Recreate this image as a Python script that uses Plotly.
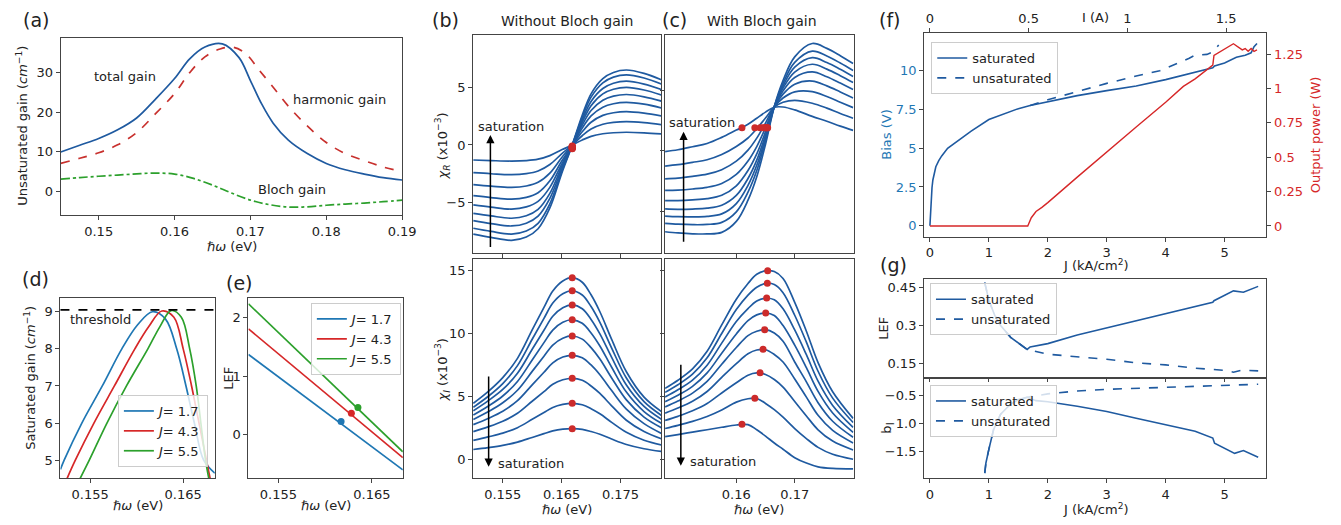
import plotly.graph_objects as go

# page size; the figure sits 8px below the page top in the browser (no horizontal offset)
PAGE_W, PAGE_H = 1341, 525
OFF_X, OFF_Y = 0, 8
W, H = PAGE_W - OFF_X, PAGE_H - OFF_Y

# ---------------- data: panel (a) ----------------
A_TOTAL_X = [0.145, 0.1475, 0.150, 0.1525, 0.155, 0.1575, 0.160, 0.162, 0.164, 0.1663, 0.1685,
             0.170, 0.1715, 0.173, 0.175, 0.1775, 0.180, 0.1825, 0.185, 0.1875, 0.190]
A_TOTAL = [9.9, 11.6, 13.3, 15.5, 18.5, 23.3, 28.5, 33.5, 36.5, 37.3, 33.8,
           28.0, 22.0, 17.2, 12.9, 9.5, 7.0, 5.4, 4.3, 3.4, 2.8]
A_HARM_X = [0.145, 0.1475, 0.150, 0.1525, 0.155, 0.1575, 0.160, 0.162, 0.164, 0.166, 0.1678,
            0.1695, 0.171, 0.173, 0.175, 0.1775, 0.180, 0.1825, 0.185, 0.1875, 0.190]
A_HARM = [7.0, 8.3, 9.7, 11.7, 14.8, 19.6, 24.7, 30.0, 34.0, 36.0, 36.4,
          34.6, 31.0, 26.3, 21.5, 16.5, 12.3, 9.5, 7.7, 6.1, 4.9]
A_BLOCH_X = [0.145, 0.1475, 0.150, 0.1525, 0.155, 0.1575, 0.160, 0.1625, 0.165, 0.1675,
             0.170, 0.1725, 0.175, 0.1775, 0.180, 0.1825, 0.185, 0.1875, 0.190]
A_BLOCH = [3.0, 3.4, 3.75, 4.05, 4.35, 4.55, 4.3, 3.2, 1.5, -0.5,
           -2.3, -3.45, -4.05, -4.0, -3.6, -3.3, -3.05, -2.7, -2.3]

# ---------------- data: panel (d) saturated gain ----------------
D_LABELS = ["<i>J</i>= 1.7", "<i>J</i>= 4.3", "<i>J</i>= 5.5"]
D_X_17 = [0.1518, 0.1522, 0.1541, 0.1563, 0.1584, 0.1601, 0.1617, 0.1631, 0.1643, 0.1653, 0.1662, 0.1672, 0.1684]
D_G_17 = [4.75, 5.0, 6.0, 7.0, 8.0, 8.65, 9.0, 8.8, 8.0, 7.0, 6.0, 5.0, 4.65]
D_X_43 = [0.1525, 0.1534, 0.1554, 0.1576, 0.1598, 0.1613, 0.1627, 0.164, 0.165, 0.1659, 0.1667, 0.1675, 0.1679]
D_G_43 = [4.5, 5.0, 6.0, 7.0, 8.0, 8.6, 9.02, 8.85, 8.0, 7.0, 6.0, 5.0, 4.5]
D_X_55 = [0.1539, 0.1549, 0.1568, 0.1589, 0.1612, 0.1625, 0.1637, 0.1648, 0.1657, 0.1664, 0.1669, 0.1674, 0.1678]
D_G_55 = [4.5, 5.0, 6.0, 7.0, 8.0, 8.6, 9.03, 8.85, 8.0, 7.0, 6.0, 5.0, 4.45]
D_THRESHOLD = 9.05

# ---------------- data: panel (e) LEF ----------------
E_X = [0.1518, 0.1683]
E_J17 = [1.37, -0.61]
E_J43 = [1.81, -0.40]
E_J55 = [2.24, -0.30]
E_DOT_X = [0.1617, 0.1628, 0.1635]
E_DOT_Y = [0.22, 0.36, 0.46]

# ---------------- data: panel (b) without Bloch gain ----------------
B_R_X = [0.150, 0.153, 0.1565, 0.159, 0.161, 0.163, 0.165, 0.1667, 0.1685, 0.170, 0.172, 0.1738, 0.176, 0.179, 0.182]
B_CHI_R = [
    [-7.71, -8.0, -8.25, -7.97, -7.25, -5.45, -2.48, -0.15, 2.57, 4.43, 5.75, 6.28, 6.49, 6.2, 5.63],
    [-7.21, -7.48, -7.71, -7.45, -6.78, -5.10, -2.32, -0.14, 2.40, 4.14, 5.38, 5.87, 6.07, 5.80, 5.26],
    [-6.55, -6.80, -7.01, -6.77, -6.16, -4.63, -2.11, -0.13, 2.18, 3.77, 4.89, 5.34, 5.52, 5.27, 4.79],
    [-5.92, -6.14, -6.34, -6.12, -5.57, -4.19, -1.90, -0.12, 1.97, 3.40, 4.42, 4.82, 4.98, 4.76, 4.32],
    [-5.19, -5.38, -5.55, -5.36, -4.88, -3.67, -1.67, -0.10, 1.73, 2.98, 3.87, 4.23, 4.37, 4.17, 3.79],
    [-4.39, -4.55, -4.69, -4.53, -4.13, -3.10, -1.41, -0.09, 1.46, 2.52, 3.27, 3.57, 3.69, 3.53, 3.20],
    [-3.43, -3.56, -3.67, -3.55, -3.23, -2.43, -1.10, -0.07, 1.14, 1.97, 2.56, 2.79, 2.89, 2.76, 2.51],
    [-2.40, -2.49, -2.57, -2.48, -2.25, -1.69, -0.77, -0.05, 0.80, 1.38, 1.79, 1.95, 2.02, 1.93, 1.75],
    [-1.30, -1.35, -1.39, -1.35, -1.23, -0.92, -0.42, -0.03, 0.43, 0.75, 0.97, 1.06, 1.10, 1.05, 0.95],
]
B_I_X = [0.150, 0.1525, 0.155, 0.1575, 0.160, 0.162, 0.1635, 0.1652, 0.1668, 0.1685, 0.170, 0.1715, 0.1735, 0.176, 0.179, 0.182]
B_CHI_I = [
    [4.45, 5.38, 6.5, 8.04, 10.3, 12.09, 13.4, 14.2, 14.46, 14.1, 13.1, 11.75, 9.55, 6.97, 4.95, 3.78],
    [4.15, 5.0, 6.03, 7.46, 9.56, 11.22, 12.44, 13.18, 13.42, 13.08, 12.16, 10.9, 8.86, 6.47, 4.59, 3.48],
    [3.86, 4.65, 5.56, 6.85, 8.76, 10.28, 11.39, 12.07, 12.29, 11.99, 11.14, 9.99, 8.12, 5.92, 4.21, 3.17],
    [3.52, 4.22, 5.04, 6.2, 7.91, 9.29, 10.29, 10.91, 11.11, 10.83, 10.06, 9.02, 7.33, 5.35, 3.80, 2.85],
    [3.17, 3.78, 4.5, 5.5, 7.0, 8.21, 9.10, 9.64, 9.82, 9.57, 8.89, 7.98, 6.48, 4.73, 3.36, 2.5],
    [2.76, 3.25, 3.83, 4.67, 5.93, 6.93, 7.68, 8.14, 8.28, 8.08, 7.51, 6.73, 5.47, 3.99, 2.84, 2.05],
    [2.2, 2.58, 3.03, 3.66, 4.62, 5.39, 5.98, 6.33, 6.45, 6.29, 5.84, 5.24, 4.26, 3.11, 2.21, 1.62],
    [1.5, 1.78, 2.08, 2.52, 3.18, 3.72, 4.13, 4.37, 4.46, 4.34, 4.03, 3.62, 2.94, 2.15, 1.52, 1.14],
    [0.78, 0.93, 1.11, 1.37, 1.74, 2.04, 2.26, 2.40, 2.44, 2.38, 2.21, 1.99, 1.61, 1.18, 0.84, 0.62],
]
B_DOT_X = [0.1668, 0.1668, 0.1668, 0.1668, 0.1668, 0.1668, 0.1668, 0.1668, 0.1668]
B_DOT_R = [-0.32, -0.29, -0.26, -0.23, -0.2, -0.17, -0.14, -0.11, -0.08]
B_DOT_I = [14.46, 13.42, 12.29, 11.11, 9.82, 8.28, 6.45, 4.46, 2.44]

# ---------------- data: panel (c) with Bloch gain ----------------
C_R_X = [0.1478, 0.150, 0.1525, 0.155, 0.1575, 0.160, 0.162, 0.1635, 0.165, 0.1665, 0.168, 0.170, 0.173, 0.1755, 0.1778, 0.180]
C_CHI_R = [
    [-6.65, -6.75, -6.82, -6.83, -6.7, -5.8, -4.05, -2.12, 0.55, 3.65, 5.8, 7.75, 8.85, 8.45, 7.85, 7.2],
    [-5.96, -6.03, -6.07, -6.05, -5.88, -5.01, -3.39, -1.61, 0.83, 3.64, 5.57, 7.29, 8.22, 7.82, 7.24, 6.62],
    [-5.36, -5.41, -5.42, -5.38, -5.18, -4.33, -2.83, -1.18, 1.07, 3.64, 5.37, 6.90, 7.68, 7.28, 6.72, 6.13],
    [-4.77, -4.80, -4.78, -4.71, -4.47, -3.66, -2.27, -0.75, 1.31, 3.64, 5.18, 6.50, 7.14, 6.74, 6.20, 5.63],
    [-4.08, -4.08, -4.02, -3.92, -3.65, -2.87, -1.61, -0.24, 1.58, 3.63, 4.95, 6.05, 6.51, 6.11, 5.59, 5.06],
    [-3.25, -3.22, -3.13, -2.99, -2.67, -1.93, -0.83, 0.36, 1.91, 3.62, 4.68, 5.50, 5.76, 5.36, 4.86, 4.37],
    [-2.29, -2.23, -2.09, -1.91, -1.54, -0.84, 0.07, 1.06, 2.30, 3.62, 4.36, 4.87, 4.89, 4.49, 4.02, 3.57],
    [-1.24, -1.13, -0.94, -0.72, -0.29, 0.37, 1.07, 1.83, 2.72, 3.61, 4.01, 4.17, 3.93, 3.53, 3.09, 2.69],
    [-0.05, 0.1, 0.35, 0.62, 1.12, 1.72, 2.2, 2.7, 3.2, 3.6, 3.62, 3.38, 2.85, 2.45, 2.05, 1.7],
]
C_I_X = [0.1478, 0.150, 0.1525, 0.155, 0.1575, 0.160, 0.162, 0.1635, 0.165, 0.1665, 0.168, 0.170, 0.172, 0.174, 0.1765, 0.180]
C_CHI_I = [
    [5.65, 6.3, 7.2, 8.6, 10.7, 12.75, 14.0, 14.73, 15.0, 14.95, 14.4, 12.5, 10.2, 7.7, 5.38, 3.26],
    [5.33, 5.94, 6.78, 8.08, 10.02, 11.92, 13.07, 13.70, 14.0, 13.92, 13.27, 11.47, 9.33, 7.01, 4.87, 2.93],
    [4.96, 5.53, 6.30, 7.49, 9.25, 10.97, 12.0, 12.6, 12.82, 12.7, 11.98, 10.30, 8.33, 6.22, 4.29, 2.54],
    [4.59, 5.10, 5.81, 6.88, 8.45, 9.98, 11.05, 11.5, 11.65, 11.45, 10.65, 9.09, 7.30, 5.41, 3.69, 2.15],
    [4.17, 4.64, 5.27, 6.20, 7.57, 8.90, 9.85, 10.2, 10.32, 10.05, 9.4, 7.75, 6.17, 4.51, 3.03, 1.75],
    [3.68, 4.08, 4.62, 5.40, 6.53, 7.62, 8.4, 8.7, 8.72, 8.35, 7.75, 6.4, 4.95, 3.5, 2.3, 1.3],
    [3.09, 3.42, 3.86, 4.44, 5.28, 6.09, 6.7, 6.88, 6.75, 6.35, 5.75, 4.6, 3.45, 2.35, 1.45, 0.74],
    [2.45, 2.70, 3.02, 3.41, 3.93, 4.55, 4.82, 4.84, 4.45, 3.95, 3.35, 2.45, 1.65, 0.95, 0.4, 0.0],
    [1.8, 1.97, 2.17, 2.35, 2.55, 2.73, 2.76, 2.35, 1.85, 1.3, 0.8, 0.13, -0.3, -0.6, -0.73, -0.77],
]
C_DOT_X = [0.16537, 0.16531, 0.1652, 0.16503, 0.16486, 0.16458, 0.16407, 0.16317, 0.16097]
C_DOT_R = [1.92, 1.92, 1.92, 1.92, 1.92, 1.92, 1.92, 1.92, 1.92]
C_DOT_I = [15.02, 14.01, 12.84, 11.65, 10.32, 8.76, 6.89, 4.86, 2.79]

# ---------------- data: panel (f) ----------------
F_J_SAT = [0, 0.01, 0.02, 0.035, 0.05, 0.075, 0.1, 0.15, 0.2, 0.3, 0.4, 0.5, 0.7, 1.0, 1.3, 1.5, 1.7,
           2.0, 2.5, 3.0, 3.5, 4.0, 4.5, 4.8, 4.83, 5.0, 5.2, 5.35, 5.45, 5.5, 5.55]
F_BIAS_SAT = [0, 0.9, 1.66, 2.45, 2.95, 3.45, 3.8, 4.2, 4.5, 4.99, 5.28, 5.53, 6.1, 6.85, 7.3, 7.55, 7.75,
              8.0, 8.39, 8.71, 9.01, 9.42, 9.87, 10.18, 10.3, 10.5, 10.86, 11.0, 11.15, 11.55, 11.75]
F_J_UNSAT = [1.7, 2.0, 2.5, 3.0, 3.5, 3.9, 4.0, 4.1, 4.4, 4.5, 4.7, 4.8, 4.9]
F_BIAS_UNSAT = [7.75, 8.12, 8.65, 9.18, 9.65, 10.0, 10.15, 10.3, 10.8, 11.0, 11.05, 11.2, 11.65]
F_J_POWER = [0, 1.66, 1.72, 1.8, 1.9, 2.0, 2.5, 3.0, 3.5, 4.0, 4.3, 4.5, 4.8, 4.82, 5.0, 5.15,
             5.3, 5.35, 5.4, 5.45, 5.5, 5.55]
F_POWER = [0, 0, 0.06, 0.105, 0.135, 0.17, 0.355, 0.54, 0.72, 0.9, 1.015, 1.07, 1.17, 1.24, 1.285, 1.325,
           1.28, 1.29, 1.27, 1.29, 1.27, 1.28]
F_I_TICKS = [0, 0.5, 1, 1.5]

# ---------------- data: panel (g) ----------------
G_J_LEF_SAT = [0.93, 1.0, 1.1, 1.2, 1.37, 1.5, 1.65, 1.7, 1.82, 2.0, 2.5, 3.0, 3.5, 4.0, 4.5, 4.8,
               4.82, 5.0, 5.15, 5.32, 5.45, 5.57]
G_LEF_SAT = [0.47, 0.40, 0.34, 0.30, 0.253, 0.23, 0.205, 0.215, 0.22, 0.228, 0.262, 0.29, 0.318, 0.345,
             0.374, 0.392, 0.398, 0.42, 0.437, 0.432, 0.445, 0.455]
G_J_LEF_UNSAT = [0.93, 1.0, 1.1, 1.2, 1.37, 1.5, 1.65, 2.0, 2.5, 3.0, 3.5, 4.0, 4.5, 5.0, 5.15, 5.3, 5.57]
G_LEF_UNSAT = [0.47, 0.40, 0.34, 0.30, 0.253, 0.23, 0.205, 0.186, 0.176, 0.166, 0.152, 0.144, 0.131,
               0.122, 0.115, 0.123, 0.12]
G_J_B_SAT = [0.93, 0.95, 1.0, 1.08, 1.2, 1.37, 1.5, 1.65, 1.8, 2.0, 2.5, 3.0, 3.5, 4.0, 4.5, 4.8, 4.83,
             5.17, 5.32, 5.57]
G_B_SAT = [-1.88, -1.7, -1.46, -1.11, -0.84, -0.66, -0.58, -0.54, -0.6, -0.62, -0.70, -0.79, -0.91,
           -1.02, -1.14, -1.26, -1.35, -1.53, -1.48, -1.6]
G_J_B_UNSAT = [0.93, 0.95, 1.0, 1.08, 1.2, 1.37, 1.5, 1.65, 2.0, 2.5, 3.0, 3.5, 4.0, 4.5, 5.0, 5.57]
G_B_UNSAT = [-1.88, -1.7, -1.46, -1.11, -0.84, -0.66, -0.58, -0.54, -0.48, -0.43, -0.40, -0.38, -0.36,
             -0.345, -0.33, -0.31]

# ---------------- styles ----------------
FONT = "DejaVu Sans"
TXT = "#222222"
FRAME = "#444444"
BLUE = "#1f5aa0"
TBLUE = "#1f77b4"
TRED = "#d62728"
TGREEN = "#2ca02c"
HRED = "#c8312e"
DOT = "#cc2b2b"

fig = go.Figure()


def add_line(x, y, xa, ya, color, width=1.7, dash=None, shape="spline", name=None, legend=None):
    kw = dict(x=x, y=y, xaxis=xa, yaxis=ya, mode="lines",
              line=dict(color=color, width=width, dash=dash, shape=shape),
              hoverinfo="skip", showlegend=name is not None)
    if name is not None:
        kw["name"] = name
        kw["legend"] = legend
    fig.add_trace(go.Scatter(**kw))


def add_dots(x, y, xa, ya, color, size=7):
    fig.add_trace(go.Scatter(x=x, y=y, xaxis=xa, yaxis=ya, mode="markers",
                             marker=dict(color=color, size=size, line=dict(width=0)),
                             hoverinfo="skip", showlegend=False))


# (a)
add_line(A_TOTAL_X, A_TOTAL, "x", "y", BLUE)
add_line(A_HARM_X, A_HARM, "x", "y", HRED, dash="dash")
add_line(A_BLOCH_X, A_BLOCH, "x", "y", TGREEN, dash="dashdot")

# (d)
for xs, ys, col, lab in [(D_X_17, D_G_17, TBLUE, D_LABELS[0]),
                         (D_X_43, D_G_43, TRED, D_LABELS[1]),
                         (D_X_55, D_G_55, TGREEN, D_LABELS[2])]:
    add_line(xs, ys, "x2", "y2", col, name=lab, legend="legend")

# (e)
for ys, col, lab in [(E_J17, TBLUE, D_LABELS[0]), (E_J43, TRED, D_LABELS[1]), (E_J55, TGREEN, D_LABELS[2])]:
    add_line(E_X, ys, "x3", "y3", col, shape="linear", name=lab, legend="legend2")
for i, col in enumerate([TBLUE, TRED, TGREEN]):
    add_dots([E_DOT_X[i]], [E_DOT_Y[i]], "x3", "y3", col, size=7)

# (b)
for ys in B_CHI_R:
    add_line(B_R_X, ys, "x4", "y4", BLUE)
add_dots(B_DOT_X, B_DOT_R, "x4", "y4", DOT)
for ys in B_CHI_I:
    add_line(B_I_X, ys, "x5", "y5", BLUE)
add_dots(B_DOT_X, B_DOT_I, "x5", "y5", DOT)

# (c)
for ys in C_CHI_R:
    add_line(C_R_X, ys, "x6", "y6", BLUE)
add_dots(C_DOT_X, C_DOT_R, "x6", "y6", DOT)
for ys in C_CHI_I:
    add_line(C_I_X, ys, "x7", "y7", BLUE)
add_dots(C_DOT_X, C_DOT_I, "x7", "y7", DOT)

# (f)
add_line(F_J_SAT, F_BIAS_SAT, "x8", "y8", BLUE, width=1.6, shape="linear", name="saturated", legend="legend3")
add_line(F_J_UNSAT, F_BIAS_UNSAT, "x8", "y8", BLUE, width=1.6, dash="dash", shape="linear",
         name="unsaturated", legend="legend3")
add_line(F_J_POWER, F_POWER, "x8", "y9", TRED, width=1.4, shape="linear")
fig.add_trace(go.Scatter(x=F_I_TICKS, y=[None] * len(F_I_TICKS), xaxis="x9", yaxis="y8",
                         mode="lines", showlegend=False, hoverinfo="skip"))

# (g)
add_line(G_J_LEF_SAT, G_LEF_SAT, "x10", "y10", BLUE, width=1.6, shape="linear", name="saturated", legend="legend4")
add_line(G_J_LEF_UNSAT, G_LEF_UNSAT, "x10", "y10", BLUE, width=1.6, dash="dash", shape="linear",
         name="unsaturated", legend="legend4")
add_line(G_J_B_SAT, G_B_SAT, "x11", "y11", BLUE, width=1.6, shape="linear", name="saturated", legend="legend5")
add_line(G_J_B_UNSAT, G_B_UNSAT, "x11", "y11", BLUE, width=1.6, dash="dash", shape="linear",
         name="unsaturated", legend="legend5")


# ---------------- layout (positions given in page pixels) ----------------
def px(p):
    return (p - OFF_X) / W


def py(p):
    return 1 - (p - OFF_Y) / H


def dx(l, r):
    return [px(l), px(r)]


def dy(t, b):
    return [py(b), py(t)]


def axis(domain, rng, anchor, tickvals=None, ticktext=None, labels=True, color=TXT, mirror=True, **kw):
    d = dict(range=rng, anchor=anchor, showline=True, mirror=mirror,
             linecolor=FRAME, linewidth=1, ticks="outside", ticklen=4, tickwidth=1, tickcolor=FRAME,
             showgrid=False, zeroline=False, showticklabels=labels,
             tickfont=dict(family=FONT, size=13, color=color))
    if domain is not None:
        d["domain"] = domain
    if tickvals is not None:
        d["tickmode"] = "array"
        d["tickvals"] = tickvals
        if ticktext is not None:
            d["ticktext"] = ticktext
    d.update(kw)
    return d


MINUS = "\u2212"
BX = dx(470, 660)
CX = dx(664, 854.5)
FX = dx(925.7, 1271.7)

layout = dict(
    width=W, height=H, margin=dict(l=0, r=0, t=0, b=0),
    paper_bgcolor="white", plot_bgcolor="white",
    font=dict(family=FONT, size=13, color=TXT),
    # (a)
    xaxis=axis(dx(53.3, 398.3), [0.145, 0.19], "y", [0.15, 0.16, 0.17, 0.18, 0.19],
               ["0.15", "0.16", "0.17", "0.18", "0.19"]),
    yaxis=axis(dy(38.3, 215), [-6.07, 38.7], "x", [0, 10, 20, 30]),
    # (d)
    xaxis2=axis(dx(53, 209), [0.1518, 0.1684], "y2", [0.155, 0.165], ["0.155", "0.165"]),
    yaxis2=axis(dy(298, 478), [4.52, 9.37], "x2", [5, 6, 7, 8, 9]),
    # (e)
    xaxis3=axis(dx(243, 399), [0.1518, 0.1683], "y3", [0.155, 0.165], ["0.155", "0.165"]),
    yaxis3=axis(dy(298, 478), [-0.75, 2.34], "x3", [0, 1, 2]),
    # (b)
    xaxis4=axis(BX, [0.14996, 0.1819], "y4", [0.155, 0.165, 0.175], labels=False),
    yaxis4=axis(dy(35, 253), [-9.35, 9.52], "x4", [-5, 0, 5], [MINUS + "5", "0", "5"]),
    xaxis5=axis(BX, [0.14996, 0.1819], "y5", [0.155, 0.165, 0.175], ["0.155", "0.165", "0.175"]),
    yaxis5=axis(dy(259, 478), [-1.49, 15.95], "x5", [0, 5, 10, 15]),
    # (c)
    xaxis6=axis(CX, [0.1478, 0.18008], "y6", [0.16, 0.17], labels=False),
    yaxis6=axis(dy(35, 253), [-8.4, 9.55], "x6", [-5, 0, 5], labels=False),
    xaxis7=axis(CX, [0.1478, 0.18008], "y7", [0.16, 0.17], ["0.16", "0.17"]),
    yaxis7=axis(dy(259, 478), [-1.49, 15.95], "x7", [0, 5, 10, 15], labels=False),
    # (f)
    xaxis8=axis(FX, [-0.1, 5.71], "y8", [0, 1, 2, 3, 4, 5]),
    yaxis8=axis(dy(33.3, 236.7), [-0.71, 12.41], "x8", [0, 2.5, 5, 7.5, 10],
                ["0", "2.5", "5", "7.5", "10"], color=TBLUE),
    yaxis9=axis(None, [-0.078, 1.401], "x8", [0, 0.25, 0.5, 0.75, 1, 1.25],
                ["0", "0.25", "0.5", "0.75", "1", "1.25"], color=TRED, mirror=False,
                overlaying="y8", side="right"),
    xaxis9=axis(None, [-0.0298, 1.704], "y8", F_I_TICKS, ["0", "0.5", "1", "1.5"], mirror=False,
                overlaying="x8", side="top"),
    # (g)
    xaxis10=axis(FX, [-0.1, 5.71], "y10", [0, 1, 2, 3, 4, 5], labels=False),
    yaxis10=axis(dy(279.3, 376.7), [0.097, 0.483], "x10", [0.15, 0.3, 0.45], ["0.15", "0.3", "0.45"]),
    xaxis11=axis(FX, [-0.1, 5.71], "y11", [0, 1, 2, 3, 4, 5]),
    yaxis11=axis(dy(379.3, 478.3), [-1.97, -0.223], "x11", [-1.5, -1.0, -0.5],
                 [MINUS + "1.5", MINUS + "1.0", MINUS + "0.5"]),
)

LEG = dict(bgcolor="rgba(255,255,255,0.8)", bordercolor="#cccccc", borderwidth=1,
           font=dict(family=FONT, size=13, color=TXT), itemwidth=30, tracegroupgap=0)
layout["legend"] = dict(LEG, x=px(202), y=py(467), xanchor="right", yanchor="bottom")
layout["legend2"] = dict(LEG, x=px(397), y=py(303), xanchor="right", yanchor="top")
layout["legend3"] = dict(LEG, x=px(933), y=py(42), xanchor="left", yanchor="top")
layout["legend4"] = dict(LEG, x=px(931.7), y=py(283.3), xanchor="left", yanchor="top")
layout["legend5"] = dict(LEG, x=px(931.7), y=py(385), xanchor="left", yanchor="top")

fig.update_layout(**layout)

# threshold line in (d)
fig.add_shape(type="line", xref="x2 domain", x0=0, x1=1, yref="y2", y0=D_THRESHOLD, y1=D_THRESHOLD,
              line=dict(color="black", width=1.6, dash="dash"))

annotations = []


def pann(text, x, y, size=13, angle=0, color=TXT, xanchor="center", yanchor="middle"):
    annotations.append(dict(text=text, x=px(x), y=py(y), xref="paper", yref="paper",
                            showarrow=False, textangle=angle, xanchor=xanchor, yanchor=yanchor,
                            font=dict(family=FONT, size=size, color=color)))


def dann(text, x, y, xa, ya, size=13, xanchor="center"):
    annotations.append(dict(text=text, x=x, y=y, xref=xa, yref=ya, showarrow=False,
                            xanchor=xanchor, yanchor="middle", font=dict(family=FONT, size=size, color=TXT)))


def arrow(xa, ya, x, y_tail, y_head):
    annotations.append(dict(text="", x=x, y=y_head, ax=x, ay=y_tail, xref=xa, yref=ya,
                            axref=xa, ayref=ya, showarrow=True, arrowhead=2, arrowsize=1.1,
                            arrowwidth=1.5, arrowcolor="black"))


# panel letters and titles
pann("(a)", 28, 20, 19)
pann("(b)", 442, 20, 19)
pann("(c)", 674, 20, 19)
pann("(d)", 28, 279, 19)
pann("(e)", 234, 283, 19)
pann("(f)", 891, 20, 19)
pann("(g)", 895, 265, 19)
pann("Without Bloch gain", 565, 21, 14)
pann("With Bloch gain", 762, 21, 14)

# axis titles
ENERGY = "<i>ℏω</i> (eV)"
pann("Unsaturated gain (<i>cm</i><sup>" + MINUS + "1</sup>)", 14, 126, 13, -90)
pann(ENERGY, 226, 246)
pann("Saturated gain (<i>cm</i><sup>" + MINUS + "1</sup>)", 22, 378, 13, -90)
pann(ENERGY, 131, 505)
pann("LEF", 222, 378, 13, -90)
pann(ENERGY, 321, 505)
pann("<i>χ<sub>R</sub></i> (x10<sup>" + MINUS + "3</sup>)", 439, 146, 13, -90)
pann("<i>χ<sub>I</sub></i> (x10<sup>" + MINUS + "3</sup>)", 439, 370, 13, -90)
pann(ENERGY, 565, 509)
pann(ENERGY, 759, 509)
pann("Bias (V)", 887, 135, 13, -90, TBLUE)
pann("Output power (W)", 1321, 135, 13, -90, TRED)
pann("I (A)", 1099, 17)
pann("J (kA/cm<sup>2</sup>)", 1099, 265)
pann("LEF", 884, 328, 13, -90)
pann("b", 887, 430, 13, -90)
pann("J (kA/cm<sup>2</sup>)", 1099, 509)

# in-plot text
dann("total gain", 0.1535, 29.1, "x", "y")
dann("harmonic gain", 0.1817, 23.2, "x", "y")
dann("Bloch gain", 0.1755, 0.3, "x", "y")
dann("threshold", 0.1561, 8.78, "x2", "y2")

arrow("x4", "y4", 0.1529, -8.95, 0.87)
dann("saturation", 0.1564, 1.6, "x4", "y4")
arrow("x6", "y6", 0.15097, -7.6, 1.59)
dann("saturation", 0.1542, 2.35, "x6", "y6")
arrow("x5", "y5", 0.1526, 6.71, -0.59)
dann("saturation", 0.1539, -0.32, "x5", "y5", xanchor="left")
arrow("x7", "y7", 0.1505, 7.64, -0.51)
dann("saturation", 0.1517, -0.19, "x7", "y7", xanchor="left")

fig.update_layout(annotations=annotations)

fig.write_html("out.html")
